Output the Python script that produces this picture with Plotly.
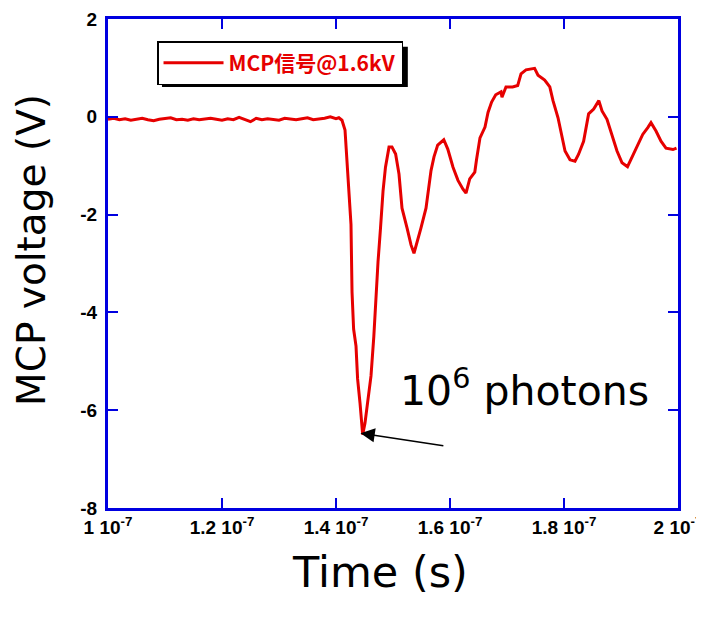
import plotly.graph_objects as go

# ---- data (time in ns, voltage in V) ----
time_ns = [100, 101, 102, 103, 104, 105, 106, 107, 108, 109, 110, 111, 112, 113, 114,
           115, 116, 117, 118, 119, 120, 121, 122, 123, 124, 125, 126, 127, 128, 129,
           130, 131, 132, 133, 134, 135, 136, 137, 138, 139, 140, 140.5,
           141.05, 141.58, 141.93, 142.19, 142.63, 142.81, 143.09, 143.51, 143.79,
           144.21, 144.56, 144.68, 145.09, 145.56, 146.14, 146.63, 146.93, 147.37,
           147.81, 148.25, 148.68, 149.30, 149.82, 150.46, 151.05, 151.58, 152.46,
           153.16, 153.68, 154.30, 154.91, 155.79, 156.32, 156.67, 157.19, 157.84,
           158.91, 159.61, 160.53, 161.40, 162.28, 162.81, 163.46, 164.35, 164.65,
           165.26, 166.14, 166.67, 167.30, 168.02, 168.95, 169.12, 169.82, 170.98,
           171.88, 172.46, 173.33, 174.84, 175.44, 176.61, 177.51, 178.07, 178.95,
           179.58, 180.18, 181.05, 181.93, 182.54, 183.44, 184.32, 185.21, 186.11,
           186.67, 187.54, 188.42, 189.30, 190.18, 191.14, 192.04, 192.91, 193.81,
           194.70, 195.26, 196.14, 197.02, 197.89, 199.12, 199.74]
voltage = [-0.05, -0.03, -0.06, -0.04, -0.07, -0.05, -0.03, -0.06, -0.08, -0.05,
           -0.04, -0.02, -0.06, -0.05, -0.07, -0.04, -0.06, -0.05, -0.03, -0.05,
           -0.07, -0.04, -0.06, -0.01, -0.05, -0.10, -0.03, -0.06, -0.04, -0.05,
           -0.07, -0.03, -0.05, -0.06, -0.04, -0.02, -0.06, -0.05, -0.03, 0.00,
           -0.04, -0.02,
           -0.07, -0.27, -0.97, -1.58, -2.20, -3.58, -4.34, -4.69, -5.36,
           -5.85, -6.26, -6.50, -6.26, -5.80, -5.30, -4.50, -3.80, -2.97,
           -2.27, -1.52, -1.03, -0.62, -0.62, -0.76, -1.17, -1.87, -2.27,
           -2.62, -2.79, -2.54, -2.27, -1.87, -1.38, -1.10, -0.82, -0.58,
           -0.47, -0.66, -1.03, -1.30, -1.48, -1.56, -1.27, -1.13, -0.88,
           -0.43, -0.21, 0.09, 0.30, 0.45, 0.51, 0.40, 0.61, 0.61,
           0.64, 0.88, 0.96, 0.99, 0.85, 0.75, 0.61, 0.33, -0.02,
           -0.36, -0.70, -0.88, -0.91, -0.77, -0.50, 0.06, 0.16, 0.33,
           0.12, -0.05, -0.36, -0.70, -0.94, -1.02, -0.80, -0.60, -0.36,
           -0.22, -0.12, -0.29, -0.50, -0.64, -0.67, -0.64]

x_tick_vals = [1.0e-7, 1.2e-7, 1.4e-7, 1.6e-7, 1.8e-7, 2.0e-7]
x_tick_text = ["1 10<sup>-7</sup>", "1.2 10<sup>-7</sup>", "1.4 10<sup>-7</sup>",
               "1.6 10<sup>-7</sup>", "1.8 10<sup>-7</sup>", "2 10<sup>-7</sup>"]
y_tick_vals = [-8, -6, -4, -2, 0, 2]
y_tick_text = ["-8", "-6", "-4", "-2", "0", "2"]

series_name = "MCP信号@1.6kV"
x_title = "Time (s)"
y_title = "MCP voltage (V)"
peak_label = "10<sup>6</sup> photons"

time_s = [t * 1e-9 for t in time_ns]

fig = go.Figure()
fig.add_trace(go.Scatter(x=time_s, y=voltage, mode="lines", name=series_name,
                         line=dict(color="#e60000", width=3)))

axis_common = dict(showline=True, linecolor="#0000e0", linewidth=3, mirror="ticks",
                   ticks="inside", ticklen=10, tickwidth=2, tickcolor="#0000e0",
                   showgrid=False, zeroline=False, automargin=False,
                   tickfont=dict(family="Liberation Sans", size=19, color="black",
                                 weight="bold"))

fig.update_xaxes(range=[1e-7, 2e-7], tickvals=x_tick_vals, ticktext=x_tick_text,
                 **axis_common)
fig.update_yaxes(range=[-8, 2], tickvals=y_tick_vals, ticktext=y_tick_text,
                 ticklabelstandoff=4, **axis_common)

# axis titles
fig.add_annotation(x=0.477, y=-0.131, xref="paper", yref="paper", showarrow=False,
                   text=x_title, xanchor="center", yanchor="middle",
                   font=dict(family="DejaVu Sans", size=43, color="black"))
fig.add_annotation(x=-0.133, y=0.528, xref="paper", yref="paper", showarrow=False,
                   text=y_title, textangle=-90, xanchor="center", yanchor="middle",
                   font=dict(family="DejaVu Sans", size=39, color="black"))

# peak annotation
fig.add_annotation(x=173.0e-9, y=-5.55, xref="x", yref="y", showarrow=False,
                   text=peak_label,
                   font=dict(family="DejaVu Sans", size=41, color="black"))
fig.add_annotation(x=144.3e-9, y=-6.47, ax=159.1e-9, ay=-6.73, xref="x", yref="y",
                   axref="x", ayref="y", text="", showarrow=True, arrowhead=2,
                   arrowsize=1.9, arrowwidth=1.5, arrowcolor="black")

# legend shadow
fig.add_shape(type="rect", xref="paper", yref="paper", x0=0.0947, x1=0.526,
              y0=0.861, y1=0.943, fillcolor="black", line=dict(width=0))

# page body has an 8px margin: shrink the figure so the plot area lands in place
fig.update_layout(
    width=696, height=611,
    margin=dict(l=100, r=26, t=11, b=111),
    paper_bgcolor="white", plot_bgcolor="white",
    showlegend=True,
    legend=dict(x=0.086, y=0.955, xanchor="left", yanchor="top",
                bgcolor="white", bordercolor="black", borderwidth=1.5,
                itemwidth=60,
                font=dict(family="Noto Sans CJK JP", size=21, color="#e60000",
                          weight="bold")),
)

fig.write_html("out.html")
